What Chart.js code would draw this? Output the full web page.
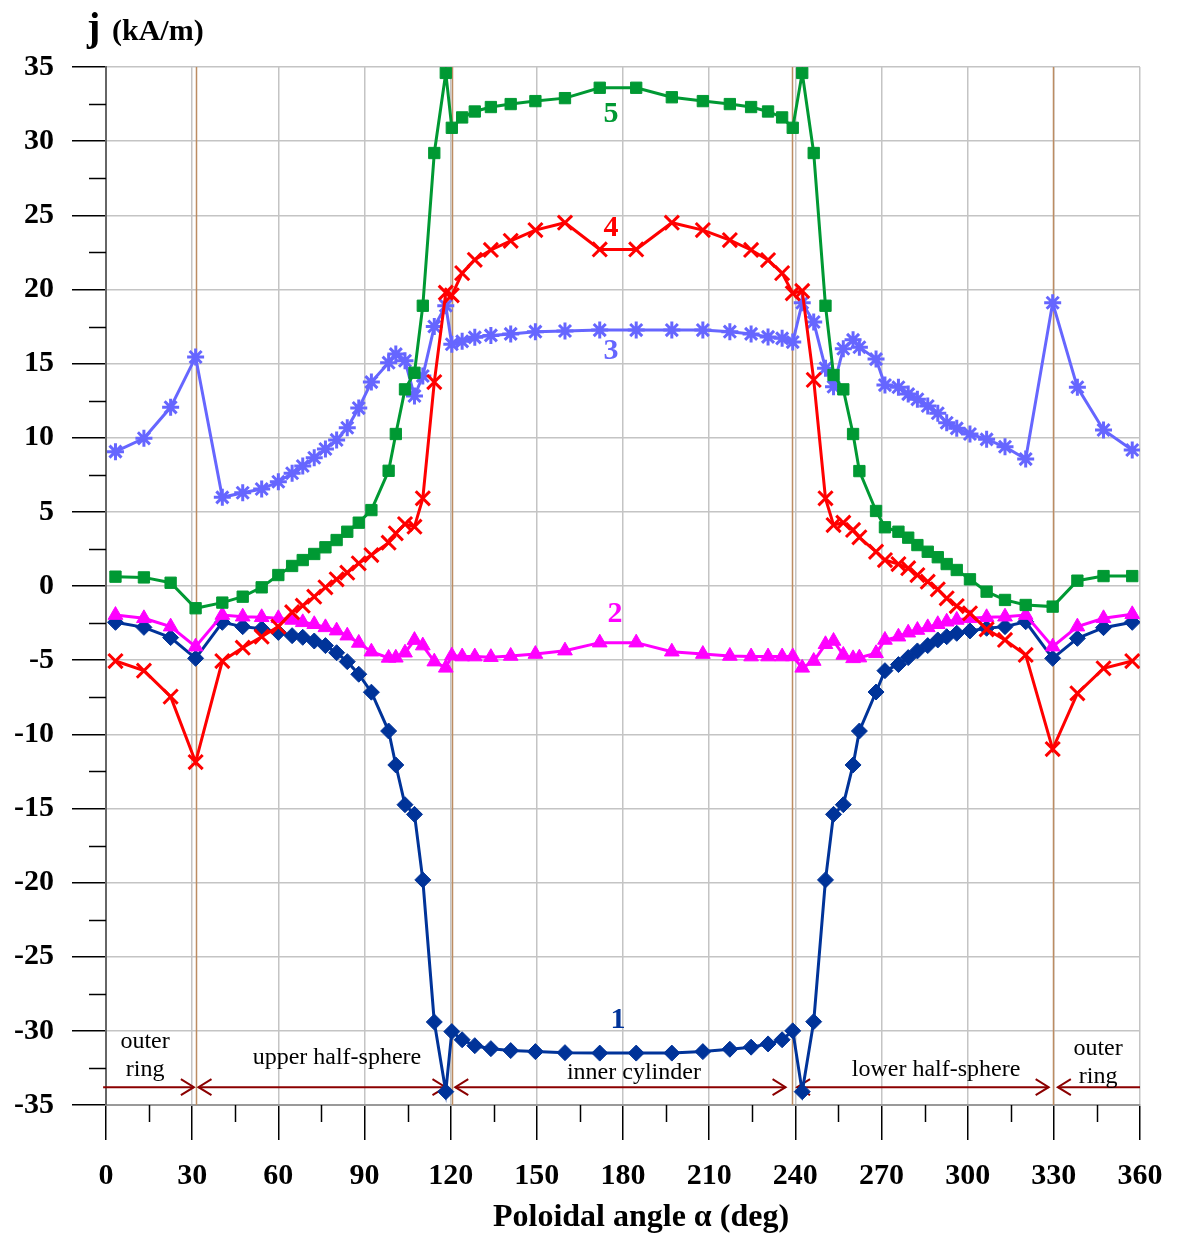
<!DOCTYPE html>
<html><head><meta charset="utf-8">
<script src="https://cdn.jsdelivr.net/npm/chart.js@4.4.0/dist/chart.umd.min.js"></script>
<style>html,body{margin:0;padding:0;background:#fff}#wrap{width:1177px;height:1239px;position:relative}</style>
</head><body><div id="wrap"><canvas id="c" width="1177" height="1239"></canvas></div>
<script>
// ---------------- DATA ----------------
const angles = [3.3, 13.2, 22.5, 31.2, 40.5, 47.6, 54.2, 60, 64.8, 68.5, 72.5, 76.4, 80.3, 84, 88, 92.4, 98.4, 100.9, 104.1, 107.4, 110.3, 114.3, 118.3, 120.4,
  124, 128.4, 134, 140.9, 149.5, 159.8, 171.9, 184.6, 197, 207.8, 217.2, 224.6, 230.5, 235.4,
  239.1, 242.4, 246.4, 250.5, 253.3, 256.7, 260.1, 262.3, 268.1, 271.2, 275.9, 279.3, 282.5, 286.1, 289.6, 292.7, 296.2, 300.8, 306.6, 313.0, 320.2, 329.6, 338.2, 347.3, 357.3];

const series1 = [-2.45, -2.79, -3.48, -4.88, -2.45, -2.74, -2.88, -3.13, -3.35, -3.46, -3.71, -4.02, -4.5, -5.1, -5.95, -7.16, -9.78, -12.07, -14.75, -15.4, -19.82, -29.4, -34.1, -30.05,
  -30.6, -31.0, -31.2, -31.33, -31.4, -31.47, -31.5, -31.5, -31.5, -31.4, -31.24, -31.1, -30.88, -30.6,
  -30.0, -34.1, -29.38, -19.82, -15.4, -14.75, -12.07, -9.78, -7.15, -5.71, -5.3, -4.83, -4.38, -4.02, -3.64, -3.42, -3.19, -3.03, -2.85, -2.74, -2.41, -4.88, -3.53, -2.81, -2.45];

const series2 = [-1.96, -2.18, -2.74, -4.09, -1.96, -2.07, -2.11, -2.18, -2.29, -2.45, -2.58, -2.79, -3.01, -3.35, -3.84, -4.43, -4.85, -4.84, -4.5, -3.65, -4.02, -5.1, -5.52, -4.7,
  -4.76, -4.76, -4.8, -4.72, -4.59, -4.36, -3.82, -3.82, -4.43, -4.59, -4.72, -4.76, -4.76, -4.76,
  -4.75, -5.52, -5.06, -3.93, -3.71, -4.65, -4.88, -4.83, -4.54, -3.64, -3.42, -3.15, -2.97, -2.79, -2.58, -2.41, -2.29, -2.18, -2.11, -2.07, -1.96, -4.09, -2.74, -2.18, -1.91];

const series3 = [9.06, 9.96, 12.05, 15.44, 5.98, 6.29, 6.54, 7.03, 7.6, 8.09, 8.65, 9.24, 9.85, 10.67, 12.0, 13.75, 15.06, 15.64, 15.19, 12.81, 14.16, 17.5, 18.9, 16.3,
  16.5, 16.77, 16.9, 17.0, 17.15, 17.2, 17.26, 17.26, 17.26, 17.26, 17.15, 17.0, 16.8, 16.7,
  16.45, 19.1, 17.8, 14.68, 13.44, 16.0, 16.6, 16.1, 15.3, 13.55, 13.4, 12.94, 12.59, 12.14, 11.65, 11.01, 10.63, 10.25, 9.89, 9.39, 8.56, 19.1, 13.4, 10.52, 9.17];

const series4 = [-5.06, -5.71, -7.46, -11.87, -5.06, -4.16, -3.42, -2.74, -1.77, -1.33, -0.72, -0.09, 0.45, 0.9, 1.53, 2.09, 2.92, 3.55, 4.18, 4.0, 5.91, 13.75, 19.78, 19.6,
  21.1, 22.0, 22.66, 23.28, 24.0, 24.5, 22.7, 22.7, 24.5, 24.0, 23.33, 22.66, 21.98, 21.1,
  19.74, 19.9, 13.9, 5.91, 4.11, 4.27, 3.78, 3.28, 2.31, 1.75, 1.48, 1.2, 0.74, 0.29, -0.22, -0.83, -1.35, -1.84, -2.92, -3.64, -4.65, -11.0, -7.24, -5.55, -5.06];

const series5 = [0.63, 0.58, 0.22, -1.5, -1.12, -0.72, -0.09, 0.74, 1.35, 1.75, 2.16, 2.61, 3.1, 3.66, 4.27, 5.12, 7.77, 10.25, 13.26, 14.38, 18.9, 29.2, 34.6, 30.9,
  31.6, 32.0, 32.3, 32.5, 32.7, 32.9, 33.6, 33.6, 32.96, 32.7, 32.5, 32.3, 32.0, 31.6,
  30.9, 34.6, 29.2, 18.9, 14.23, 13.26, 10.25, 7.75, 5.06, 3.96, 3.66, 3.26, 2.76, 2.31, 1.94, 1.48, 1.08, 0.45, -0.38, -0.94, -1.28, -1.39, 0.36, 0.67, 0.67];

const seriesNames = ['1', '2', '3', '4', '5'];
const xTickLabels = [0, 30, 60, 90, 120, 150, 180, 210, 240, 270, 300, 330, 360];
const yTickLabels = [-35, -30, -25, -20, -15, -10, -5, 0, 5, 10, 15, 20, 25, 30, 35];
const boundaries = [31.3, 120.3, 238.7, 329.6];
const regionArrows = [[-1, 30.6], [32.2, 118.2], [121.6, 236.6], [240.6, 328.2], [331.4, 360]];
const regionLabels = ['outer\nring', 'upper half-sphere', 'inner cylinder', 'lower half-sphere', 'outer\nring'];
const xTitle = 'Poloidal angle α (deg)';

// ---------------- STYLE / LAYOUT ----------------
const colors = ['#003399', '#ff00ff', '#6666ff', '#ff0000', '#009933'];
const pointStyles = ['rectRot', 'triangle', 'star', 'crossRot', 'rect'];
const pointRadii = [8, 8.5, 8.5, 10, 8];
const seriesLabelPos = [[178.3, -29.3], [177.2, -1.9], [175.8, 15.8], [175.8, 24.1], [175.8, 31.8]];
const regionLabelPos = [[13.6, -30.7], [80.4, -31.8], [183.8, -32.8], [289, -32.6], [345.4, -31.2]];
const arrowY = -33.8;
const SERIF = '"Liberation Serif", "Times New Roman", serif';

const allSeries = [series1, series2, series3, series4, series5];
const datasets = allSeries.map((s, i) => ({
  label: seriesNames[i],
  data: angles.map((a, k) => ({x: a, y: s[k]})),
  borderColor: colors[i],
  backgroundColor: colors[i],
  borderWidth: 3,
  pointStyle: pointStyles[i],
  pointRadius: pointRadii[i],
  pointBorderWidth: (i === 2 || i === 3) ? 3 : 1,
  pointBorderColor: colors[i],
  pointBackgroundColor: colors[i],
  showLine: true,
  tension: 0,
  order: 5 - i
}));

const decor = {
  id: 'decor',
  beforeDatasetsDraw(chart) {
    const {ctx, scales: {x, y}, chartArea: a} = chart;
    ctx.save();
    // boundary lines
    ctx.strokeStyle = 'rgb(188,140,98)';
    ctx.lineWidth = 1.5;
    boundaries.forEach(b => {
      const px = Math.round(x.getPixelForValue(b)) + 0.5;
      ctx.beginPath(); ctx.moveTo(px, a.top); ctx.lineTo(px, a.bottom); ctx.stroke();
    });
    // region arrows
    ctx.strokeStyle = '#8b0000';
    ctx.lineWidth = 2;
    const py = y.getPixelForValue(arrowY);
    regionArrows.forEach((r, i) => {
      const x1 = x.getPixelForValue(r[0]), x2 = x.getPixelForValue(r[1]);
      ctx.beginPath(); ctx.moveTo(x1, py); ctx.lineTo(x2, py); ctx.stroke();
      if (i > 0) { ctx.beginPath(); ctx.moveTo(x1 + 13, py - 8); ctx.lineTo(x1, py); ctx.lineTo(x1 + 13, py + 8); ctx.stroke(); }
      if (i < regionArrows.length - 1) { ctx.beginPath(); ctx.moveTo(x2 - 13, py - 8); ctx.lineTo(x2, py); ctx.lineTo(x2 - 13, py + 8); ctx.stroke(); }
    });
    // region labels
    ctx.fillStyle = '#000';
    ctx.font = '24px ' + SERIF;
    ctx.textAlign = 'center';
    ctx.textBaseline = 'middle';
    regionLabels.forEach((t, i) => {
      const lines = t.split('\n');
      const px = x.getPixelForValue(regionLabelPos[i][0]);
      const py0 = y.getPixelForValue(regionLabelPos[i][1]);
      lines.forEach((ln, k) => ctx.fillText(ln, px, py0 + k * 28));
    });
    ctx.restore();
  },
  afterDraw(chart) {
    const {ctx, scales: {x, y}, chartArea: a} = chart;
    ctx.save();
    // minor ticks
    ctx.strokeStyle = '#000';
    ctx.lineWidth = 1.5;
    for (let v = -32.5; v < 35; v += 5) {
      const py = Math.round(y.getPixelForValue(v)) + 0.5;
      ctx.beginPath(); ctx.moveTo(a.left - 17, py); ctx.lineTo(a.left, py); ctx.stroke();
    }
    for (let v = 15; v < 360; v += 30) {
      const px = Math.round(x.getPixelForValue(v)) + 0.5;
      ctx.beginPath(); ctx.moveTo(px, a.bottom); ctx.lineTo(px, a.bottom + 17); ctx.stroke();
    }
    // series labels
    ctx.font = 'bold 30px ' + SERIF;
    ctx.textAlign = 'center';
    ctx.textBaseline = 'middle';
    seriesNames.forEach((n, i) => {
      ctx.fillStyle = colors[i];
      ctx.fillText(n, x.getPixelForValue(seriesLabelPos[i][0]), y.getPixelForValue(seriesLabelPos[i][1]));
    });
    // y title
    ctx.fillStyle = '#000';
    ctx.textAlign = 'left';
    ctx.textBaseline = 'alphabetic';
    ctx.font = 'bold 40px ' + SERIF;
    ctx.fillText('j', 87, 40);
    ctx.font = 'bold 30px ' + SERIF;
    ctx.fillText('(kA/m)', 112, 40);
    // x title
    ctx.textAlign = 'center';
    ctx.textBaseline = 'middle';
    ctx.font = 'bold 32px ' + SERIF;
    ctx.fillText(xTitle, 641, 1218);
    ctx.restore();
  }
};

new Chart(document.getElementById('c'), {
  type: 'scatter',
  data: {datasets},
  plugins: [decor],
  options: {
    responsive: false,
    animation: false,
    devicePixelRatio: 1,
    layout: {padding: {top: 67, right: 37, left: 0, bottom: 0}},
    plugins: {legend: {display: false}, tooltip: {enabled: false}},
    scales: {
      x: {
        type: 'linear', min: 0, max: 360,
        afterFit(s) { s.height = 134; s.paddingLeft = 0; s.paddingRight = 0; },
        afterBuildTicks(s) { s.ticks = xTickLabels.map(v => ({value: v})); },
        ticks: {stepSize: 30, color: '#000', padding: 18, maxRotation: 0, autoSkip: false,
          font: {family: SERIF, size: 30, weight: 'bold'}},
        grid: {color: '#c4c4c4', lineWidth: 1.5, tickColor: '#000', tickLength: 35, tickWidth: 1.5},
        border: {color: '#999', width: 2}
      },
      y: {
        min: -35, max: 35,
        afterFit(s) { s.width = 106; s.paddingTop = 0; s.paddingBottom = 0; },
        afterBuildTicks(s) { s.ticks = yTickLabels.map(v => ({value: v})); },
        ticks: {stepSize: 5, color: '#000', padding: 18, autoSkip: false,
          font: {family: SERIF, size: 30, weight: 'bold'}},
        grid: {color: '#c4c4c4', lineWidth: 1.5, tickColor: '#000', tickLength: 34, tickWidth: 1.5},
        border: {color: '#666', width: 2}
      }
    }
  }
});
</script></body></html>
